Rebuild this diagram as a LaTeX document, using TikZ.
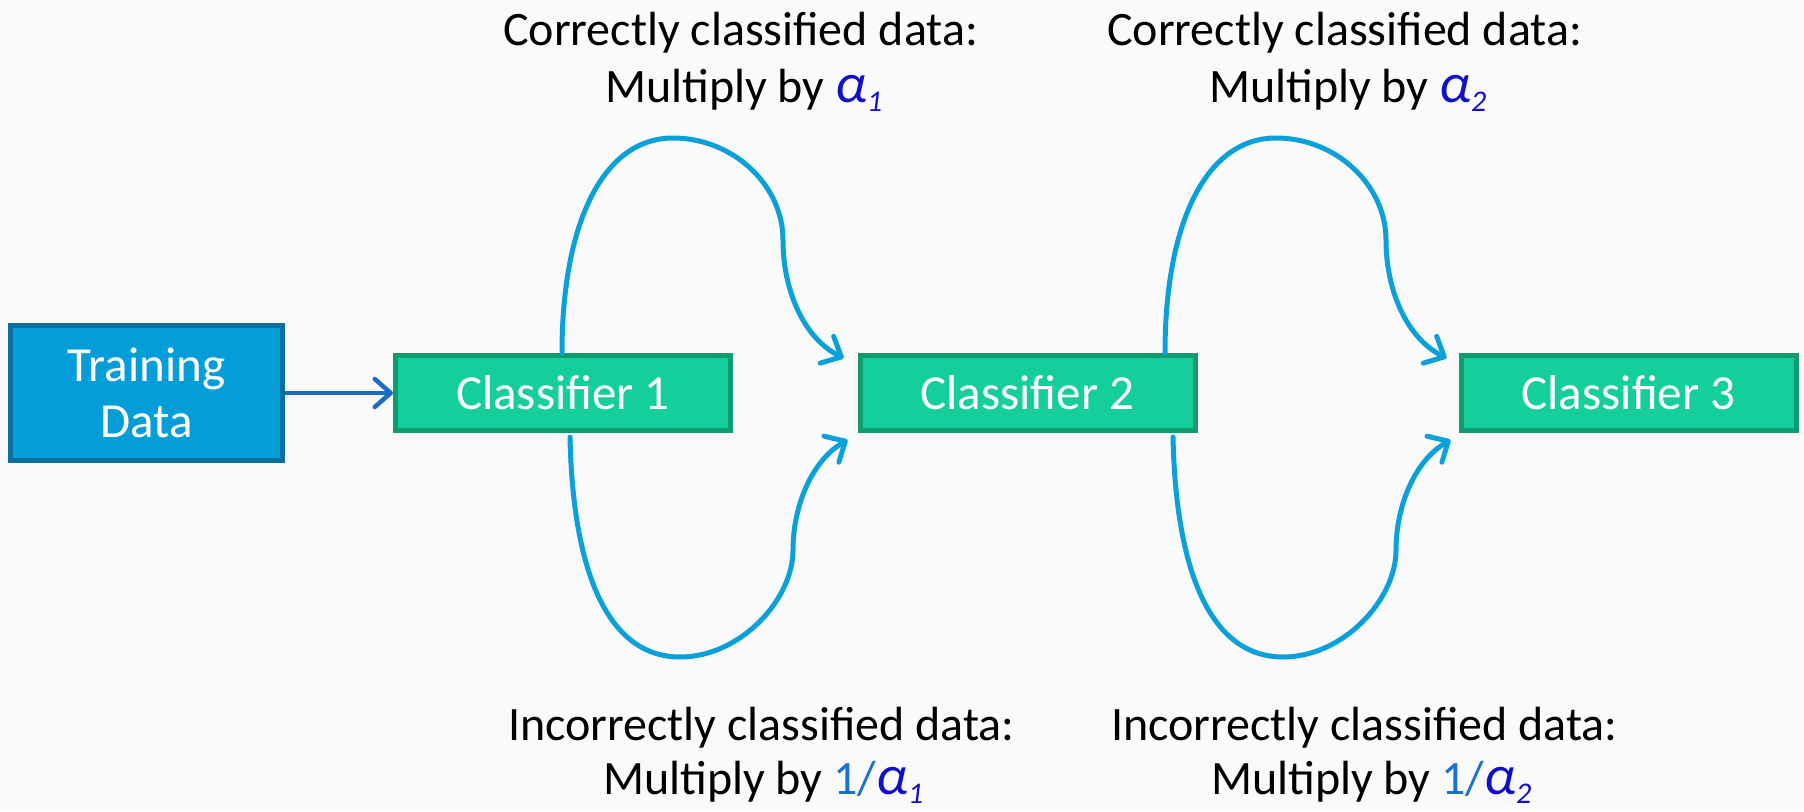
\documentclass[tikz,border=0pt]{standalone}
\usepackage{fontspec}
\setmainfont{Carlito}
\usetikzlibrary{arrows.meta,calc,shadows}

\definecolor{pagebg}{HTML}{FAFAFA}
\definecolor{tdfill}{HTML}{049DD8}
\definecolor{tdedge}{HTML}{0B6F9E}
\definecolor{clfill}{HTML}{14CF9B}
\definecolor{cledge}{HTML}{0F9A70}
\definecolor{loopblue}{HTML}{0AA0DA}
\definecolor{feedblue}{HTML}{1C6CC6}
\definecolor{alphablue}{HTML}{1010C8}
\definecolor{fracblue}{HTML}{1A72CE}

% weight symbol alpha_k
\newcommand\wsym[1]{{\color{alphablue}{\fontsize{56}{56}\selectfont\textit{α}}\raisebox{-0.2em}{\fontsize{30}{30}\selectfont\textit{#1}}}}
\newcommand\winv[1]{{\color{fracblue}1/}\wsym{#1}}

\begin{document}
\begin{tikzpicture}[x=1pt,y=-1pt,
  boxbase/.style={draw, line width=5pt, text=white, align=center,
    font=\fontsize{49}{56}\selectfont, inner sep=0pt,
    drop shadow={shadow xshift=1.5pt, shadow yshift=-2.5pt, opacity=0.25}},
  databox/.style={boxbase, fill=tdfill, draw=tdedge,
    minimum width=272pt, minimum height=135pt},
  clfbox/.style={boxbase, fill=clfill, draw=cledge,
    minimum width=335pt, minimum height=75pt},
  lbl/.style={inner sep=0pt, anchor=base west, text=black,
    font=\fontsize{48}{56}\selectfont},
  loopline/.style={draw=loopblue, line width=5pt, line cap=round,
    -{Straight Barb[length=16pt, width=30pt, round]}},
  feedline/.style={draw=feedblue, line width=4.5pt,
    -{Straight Barb[length=16pt, width=28pt, round]}}
]
\useasboundingbox (0,0) rectangle (1804,811);
\fill[pagebg] (0,0) rectangle (1804,811);

% boxes
\node[databox] (td) at (146.5,393) {Training\\Data};
\node[clfbox] (c1) at (563,393) {Classifier 1};
\node[clfbox] (c2) at (1027.5,393) {Classifier 2};
\node[clfbox] (c3) at (1628.5,393) {Classifier 3};

% training data feeds the first classifier
\draw[feedline] (td) -- (c1);

% reweighting loops after classifier 1
\draw[loopline] ($(c1.north)+(-1,0)$)
  .. controls +(0,-130) and +(-70,0) .. (673,138)
  .. controls +(60,0) and +(0,-55) .. (783,240)
  .. controls +(0,50) and +(-40,-20) .. ($(c2.north west)+(-14,5)$);
\draw[loopline] ($(c1.south)+(7,4)$)
  .. controls +(3,140) and +(-70,0) .. (680,657)
  .. controls +(60,0) and +(0,50) .. (793,550)
  .. controls +(0,-45) and +(-35,20) .. ($(c2.south west)+(-10,7)$);

% reweighting loops after classifier 2
\draw[loopline] ($(c2.north)+(137.5,0)$)
  .. controls +(0,-130) and +(-70,0) .. (1276,138)
  .. controls +(60,0) and +(0,-55) .. (1386,240)
  .. controls +(0,50) and +(-40,-20) .. ($(c3.north west)+(-12,5)$);
\draw[loopline] ($(c2.south)+(145.5,4)$)
  .. controls +(3,140) and +(-70,0) .. (1283,657)
  .. controls +(60,0) and +(0,50) .. (1396,550)
  .. controls +(0,-45) and +(-35,20) .. ($(c3.south west)+(-8,7)$);

% labels
\node[lbl] (t1a) at (503,45) {Correctly classified data:};
\node[lbl] (t1b) at (605,102) {Multiply by \wsym{1}};
\node[lbl] (t2a) at (1107,45) {Correctly classified data:};
\node[lbl] (t2b) at (1209,102) {Multiply by \wsym{2}};
\node[lbl] (b1a) at (508,740) {Incorrectly classified data:};
\node[lbl] (b1b) at (603,794) {Multiply by \winv{1}};
\node[lbl] (b2a) at (1111,740) {Incorrectly classified data:};
\node[lbl] (b2b) at (1211,794) {Multiply by \winv{2}};
\end{tikzpicture}
\end{document}
